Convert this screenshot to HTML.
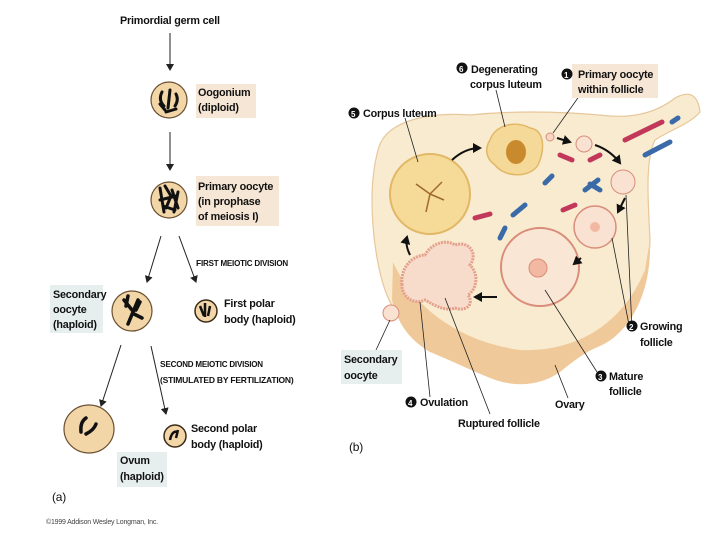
<!DOCTYPE html>
<html><head><meta charset="utf-8"><style>
html,body{margin:0;padding:0;background:#fff;}
svg{display:block;}
text{font-family:"Liberation Sans",sans-serif;font-weight:bold;font-size:10.8px;letter-spacing:-0.2px;fill:#111;}
.sm{font-size:8.5px;}
</style></head><body>
<svg width="720" height="540" viewBox="0 0 720 540" xmlns="http://www.w3.org/2000/svg">
<defs>
<marker id="ah" markerWidth="8" markerHeight="8" refX="6" refY="4" orient="auto" markerUnits="userSpaceOnUse"><path d="M0,0 L7,4 L0,8 Z" fill="#222"/></marker>
<marker id="bh" markerWidth="10" markerHeight="10" refX="7" refY="5" orient="auto" markerUnits="userSpaceOnUse"><path d="M0,0 L9,5 L0,10 Z" fill="#111"/></marker>
</defs>
<!-- LEFT PANEL -->
<text x="120" y="24">Primordial germ cell</text>
<line x1="170" y1="33" x2="170" y2="70" stroke="#222" stroke-width="1" marker-end="url(#ah)"/>
<circle cx="169" cy="100" r="18" fill="#f3d6a8" stroke="#6b5030" stroke-width="1.2"/>
<path d="M162,92 q-4,8 2,14 M170,90 l-2,18 M176,94 q3,6 -1,12 M160,104 l5,6 M166,112 l10,-3" stroke="#111" stroke-width="3" fill="none" stroke-linecap="round"/>
<rect x="196" y="84" width="60" height="34" fill="#f6e6d6"/>
<text x="198" y="96">Oogonium</text>
<text x="198" y="111">(diploid)</text>
<line x1="170" y1="132" x2="170" y2="170" stroke="#222" stroke-width="1" marker-end="url(#ah)"/>
<circle cx="169" cy="200" r="18" fill="#f3d6a8" stroke="#6b5030" stroke-width="1.2"/>
<path d="M160,188 l4,24 M165,186 l6,10 l-5,12 M172,190 l6,18 M178,192 l-4,20 M160,200 l16,-4 M163,206 l12,4" stroke="#111" stroke-width="3" fill="none" stroke-linecap="round"/>
<rect x="196" y="176" width="83" height="50" fill="#f6e6d6"/>
<text x="198" y="190">Primary oocyte</text>
<text x="198" y="205">(in prophase</text>
<text x="198" y="220">of meiosis I)</text>
<line x1="161" y1="236" x2="147" y2="282" stroke="#222" stroke-width="1" marker-end="url(#ah)"/>
<line x1="179" y1="236" x2="196" y2="282" stroke="#222" stroke-width="1" marker-end="url(#ah)"/>
<text x="196" y="266" class="sm">F<tspan font-size="8">IRST MEIOTIC DIVISION</tspan></text>
<rect x="50" y="285" width="53" height="48" fill="#e6efee"/>
<text x="53" y="298">Secondary</text>
<text x="53" y="313">oocyte</text>
<text x="53" y="328">(haploid)</text>
<circle cx="132" cy="311" r="20" fill="#f3d6a8" stroke="#6b5030" stroke-width="1.2"/>
<path d="M124,300 l8,10 M128,296 l-2,10 M138,300 l-10,24 M134,314 l8,4 M140,302 l-4,8" stroke="#111" stroke-width="3.5" fill="none" stroke-linecap="round"/>
<circle cx="206" cy="311" r="11" fill="#f3d6a8" stroke="#3a2a18" stroke-width="1.5"/>
<path d="M200,306 l4,10 M205,303 l0,14 M210,306 l-2,10" stroke="#111" stroke-width="2.5" fill="none"/>
<text x="224" y="307">First polar</text>
<text x="224" y="323">body (haploid)</text>
<line x1="121" y1="345" x2="101" y2="406" stroke="#222" stroke-width="1" marker-end="url(#ah)"/>
<line x1="151" y1="346" x2="166" y2="414" stroke="#222" stroke-width="1" marker-end="url(#ah)"/>
<text x="160" y="367" class="sm">S<tspan font-size="8">ECOND MEIOTIC DIVISION</tspan></text>
<text x="160" y="383" class="sm">(STIMULATED BY FERTILIZATION)</text>
<ellipse cx="89" cy="429" rx="25" ry="24" fill="#f3d6a8" stroke="#6b5030" stroke-width="1.2"/>
<path d="M86,418 q-6,4 -5,14 M96,424 q-2,6 -10,10" stroke="#111" stroke-width="3.5" fill="none" stroke-linecap="round"/>
<rect x="117" y="452" width="50" height="35" fill="#e6efee"/>
<text x="120" y="464">Ovum</text>
<text x="120" y="480">(haploid)</text>
<circle cx="175" cy="436" r="11" fill="#f3d6a8" stroke="#3a2a18" stroke-width="1.5"/>
<path d="M170,440 q2,-10 8,-8 M176,438 l2,-8" stroke="#111" stroke-width="2.5" fill="none"/>
<text x="191" y="432">Second polar</text>
<text x="191" y="448">body (haploid)</text>
<text x="52" y="501" style="font-weight:normal;font-size:12px">(a)</text>
<text x="46" y="524" style="font-weight:normal;font-size:7px;fill:#444">©1999 Addison Wesley Longman, Inc.</text>

<!-- RIGHT PANEL -->
<path d="M378,150 C385,120 430,112 470,115 C520,110 570,112 610,116 C640,118 660,110 675,98 C690,90 698,95 700,112 C690,124 670,130 655,140 C645,160 648,200 650,240 C648,290 625,330 590,345 C560,358 520,388 480,372 C440,356 410,340 395,310 C380,290 372,240 372,200 C372,180 374,165 378,150 Z" fill="#f8ebcf" stroke="#e7c79b" stroke-width="1.2"/>
<path d="M393,262 C410,300 450,340 520,350 C570,352 620,330 645,270 L650,240 C652,300 625,335 600,346 C585,352 575,360 560,372 C540,386 515,388 490,378 C470,370 450,360 430,352 C410,340 398,325 392,300 Z" fill="#f0c99a"/>
<!-- corpus luteum -->
<circle cx="430" cy="194" r="40" fill="#f5da98" stroke="#e2b867" stroke-width="2"/>
<path d="M430,194 l-14,-10 M430,194 l12,-12 M430,194 l-4,18 M430,194 l14,6" stroke="#a06a2a" stroke-width="1.5"/>
<!-- degenerating -->
<path d="M490,140 C495,125 515,120 530,128 C545,130 545,150 538,165 C530,178 505,178 495,165 C485,158 485,148 490,140 Z" fill="#f5d998" stroke="#e2b867" stroke-width="1.5"/>
<ellipse cx="516" cy="152" rx="10" ry="12" fill="#c88a2c"/>
<!-- follicles -->
<circle cx="550" cy="137" r="4" fill="#f7d6c6" stroke="#d98d7a"/>
<circle cx="584" cy="144" r="8" fill="#f9e2d2" stroke="#d98d7a"/>
<circle cx="623" cy="182" r="12" fill="#f9e2d2" stroke="#d98d7a"/>
<circle cx="595" cy="227" r="21" fill="#f9e2d2" stroke="#d98d7a" stroke-width="1.5"/>
<circle cx="595" cy="227" r="5" fill="#f2b8a2"/>
<circle cx="540" cy="267" r="39" fill="#f9e6d4" stroke="#d98d7a" stroke-width="2"/>
<circle cx="538" cy="268" r="9" fill="#f2b8a2" stroke="#d98d7a"/>
<!-- ruptured follicle -->
<path d="M402,285 C400,265 415,255 425,255 C430,245 445,238 455,245 C470,240 478,255 470,265 C480,275 476,290 468,295 C475,305 465,312 455,308 C445,312 432,304 425,300 C415,305 402,298 402,285 Z" fill="#f8dccb" stroke="#e4a08c" stroke-width="3" stroke-dasharray="2 1"/>
<circle cx="391" cy="313" r="8" fill="#f9e2d2" stroke="#d98d7a"/>
<!-- vessels -->
<g stroke-linecap="round" fill="none" stroke-width="5">
<path d="M625,140 L662,122" stroke="#c2385a"/><path d="M645,155 L670,142" stroke="#3a6aa8"/>
<path d="M560,155 L572,160" stroke="#c2385a"/><path d="M590,160 L600,155" stroke="#c2385a"/>
<path d="M545,183 L552,176" stroke="#3a6aa8"/><path d="M585,190 L598,180 M590,184 L600,190" stroke="#3a6aa8"/>
<path d="M513,215 L525,205" stroke="#3a6aa8"/><path d="M563,210 L575,205" stroke="#c2385a"/>
<path d="M475,218 L490,214" stroke="#c2385a"/><path d="M500,238 L505,228" stroke="#3a6aa8"/>
<path d="M672,122 L678,118" stroke="#3a6aa8"/>
</g>
<!-- arrows -->
<g stroke="#111" stroke-width="2" fill="none">
<path d="M452,160 Q465,148 480,148" marker-end="url(#bh)"/>
<path d="M557,138 L570,142" marker-end="url(#bh)"/>
<path d="M595,145 Q610,150 620,163" marker-end="url(#bh)"/>
<path d="M625,198 L618,212" marker-end="url(#bh)"/>
<path d="M581,258 L574,264" marker-end="url(#bh)"/>
<path d="M497,297 L475,297" marker-end="url(#bh)"/>
<path d="M410,255 Q405,245 407,237" marker-end="url(#bh)"/>
</g>
<!-- leader lines -->
<g stroke="#222" stroke-width="0.8">
<line x1="405" y1="118" x2="418" y2="162"/>
<line x1="496" y1="90" x2="505" y2="127"/>
<line x1="580" y1="95" x2="553" y2="133"/>
<line x1="630" y1="330" x2="612" y2="238"/>
<line x1="632" y1="330" x2="626" y2="195"/>
<line x1="597" y1="372" x2="545" y2="290"/>
<line x1="568" y1="398" x2="555" y2="365"/>
<line x1="490" y1="414" x2="445" y2="298"/>
<line x1="430" y1="397" x2="420" y2="302"/>
<line x1="376" y1="350" x2="390" y2="320"/>
</g>
<!-- labels -->
<g>
<circle cx="462" cy="68" r="5.5" fill="#111"/><text x="459" y="72" style="fill:#fff;font-size:8px">6</text>
<text x="471" y="73">Degenerating</text>
<text x="470" y="88">corpus luteum</text>
<rect x="572" y="64" width="86" height="34" fill="#f6e6d6"/>
<circle cx="567" cy="74" r="5.5" fill="#111"/><text x="564" y="78" style="fill:#fff;font-size:8px">1</text>
<text x="578" y="78">Primary oocyte</text>
<text x="578" y="93">within follicle</text>
<circle cx="354" cy="113" r="5.5" fill="#111"/><text x="351" y="117" style="fill:#fff;font-size:8px">5</text>
<text x="363" y="117">Corpus luteum</text>
<circle cx="632" cy="326" r="5.5" fill="#111"/><text x="629" y="330" style="fill:#fff;font-size:8px">2</text>
<text x="640" y="330">Growing</text>
<text x="640" y="346">follicle</text>
<circle cx="601" cy="376" r="5.5" fill="#111"/><text x="598" y="380" style="fill:#fff;font-size:8px">3</text>
<text x="609" y="380">Mature</text>
<text x="609" y="395">follicle</text>
<rect x="341" y="350" width="61" height="34" fill="#e6efee"/>
<text x="344" y="363">Secondary</text>
<text x="344" y="379">oocyte</text>
<circle cx="411" cy="402" r="5.5" fill="#111"/><text x="408" y="406" style="fill:#fff;font-size:8px">4</text>
<text x="420" y="406">Ovulation</text>
<text x="555" y="408">Ovary</text>
<text x="458" y="427">Ruptured follicle</text>
<text x="349" y="451" style="font-weight:normal;font-size:12px">(b)</text>
</g>
</svg>
</body></html>
